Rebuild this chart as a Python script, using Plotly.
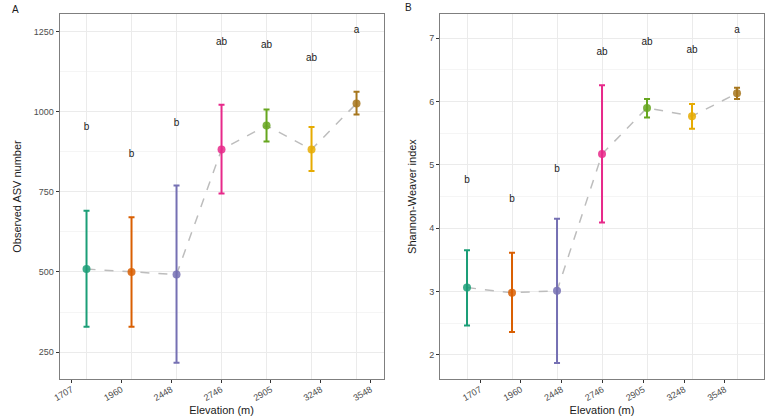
import plotly.graph_objects as go

elevations = ["1707", "1960", "2448", "2746", "2905", "3248", "3548"]
colors = ["#1B9E77", "#D95F02", "#7570B3", "#E7298A", "#66A61E", "#E6AB02", "#A6761D"]

asv_mean = [509, 500, 492, 882, 957, 882, 1026]
asv_upper = [691, 671, 770, 1022, 1007, 952, 1062]
asv_lower = [329, 329, 217, 745, 907, 815, 991]
asv_letters = ["b", "b", "b", "ab", "ab", "ab", "a"]
asv_letter_y = [950, 866, 963, 1216, 1207, 1165, 1255]

sw_mean = [3.06, 2.98, 3.01, 5.17, 5.90, 5.77, 6.13]
sw_upper = [3.65, 3.61, 4.15, 6.26, 6.04, 5.96, 6.22]
sw_lower = [2.46, 2.36, 1.87, 4.09, 5.75, 5.57, 6.04]
sw_letters = ["b", "b", "b", "ab", "ab", "ab", "a"]
sw_letter_y = [4.76, 4.46, 4.92, 6.78, 6.93, 6.81, 7.12]

FONT = "Liberation Sans, Arial, sans-serif"
fig = go.Figure()

def add_panel(xa, ya, xlab, mean, up, lo, letters, ly):
    fig.add_trace(go.Scatter(x=elevations, y=mean, mode="lines",
                             line=dict(color="#BDBDBD", width=1.5, dash="dash"),
                             xaxis=xa, yaxis=ya, showlegend=False, hoverinfo="skip"))
    for i, e in enumerate(elevations):
        fig.add_trace(go.Scatter(
            x=[e], y=[mean[i]], mode="markers",
            marker=dict(color=colors[i], size=8, opacity=0.85, line=dict(width=0)),
            error_y=dict(type="data", symmetric=False,
                         array=[up[i] - mean[i]], arrayminus=[mean[i] - lo[i]],
                         color=colors[i], thickness=2, width=3),
            xaxis=xa, yaxis=ya, showlegend=False))
    fig.add_trace(go.Scatter(x=elevations, y=ly, mode="text", text=letters,
                             textposition="middle center",
                             textfont=dict(size=10, color="#1A1A1A", family=FONT),
                             xaxis=xa, yaxis=ya, showlegend=False, hoverinfo="skip"))
    # invisible trace for the tick-label axis
    fig.add_trace(go.Scatter(x=elevations, y=[mean[0]] * 7, mode="markers",
                             marker=dict(opacity=0), xaxis=xlab, yaxis=ya,
                             showlegend=False, hoverinfo="skip"))

add_panel("x", "y", "x3", asv_mean, asv_upper, asv_lower, asv_letters, asv_letter_y)
add_panel("x2", "y2", "x4", sw_mean, sw_upper, sw_lower, sw_letters, sw_letter_y)

W, H = 767, 419
domA = [53 / W, 380 / W]
domB = [437 / W, 764 / W]
ydom = [1 - 379 / H, 1 - 14 / H]

border = "#7F7F7F"
tickfont = dict(size=9, color="#4D4D4D", family=FONT)
titlefont = dict(size=11, color="#1A1A1A", family=FONT)

data_x = dict(type="category", categoryorder="array", categoryarray=elevations,
              range=[-0.6, 6.6], showticklabels=False, ticks="", showgrid=True,
              gridcolor="#EBEBEB", gridwidth=1, zeroline=False,
              showline=True, linecolor=border, linewidth=1, mirror=True)
lab_x = dict(type="category", categoryorder="array", categoryarray=elevations,
             showgrid=False, zeroline=False, showline=False, ticks="outside",
             ticklen=3, tickcolor="#333333", tickangle=-30, tickfont=tickfont,
             ticklabelstandoff=-2,
             title=dict(text="Elevation (m)", font=titlefont, standoff=4))

fig.update_layout(
    width=W, height=H, margin=dict(l=0, r=0, t=0, b=0),
    paper_bgcolor="white", plot_bgcolor="white", font=dict(family=FONT),
    xaxis=dict(domain=domA, anchor="y", **data_x),
    xaxis2=dict(domain=domB, anchor="y2", **data_x),
    xaxis3=dict(domain=domA, anchor="y", overlaying="x", range=[-0.24, 6.26], **lab_x),
    xaxis4=dict(domain=domB, anchor="y2", overlaying="x2", range=[-0.98, 6.96], **lab_x),
    yaxis=dict(domain=ydom, anchor="x", range=[166, 1305], tickvals=[250, 500, 750, 1000, 1250],
               showgrid=True, gridcolor="#EBEBEB", zeroline=False,
               minor=dict(tickvals=[375, 625, 875, 1125], showgrid=True, gridcolor="#F5F5F5", ticks=""),
               ticks="outside", ticklen=3, tickcolor="#333333", tickfont=tickfont,
               showline=True, linecolor=border, linewidth=1, mirror=True,
               title=dict(text="Observed ASV number", font=titlefont, standoff=9)),
    yaxis2=dict(domain=ydom, anchor="x2", range=[1.616, 7.384], tickvals=[2, 3, 4, 5, 6, 7],
                showgrid=True, gridcolor="#EBEBEB", zeroline=False,
                minor=dict(tickvals=[2.5, 3.5, 4.5, 5.5, 6.5], showgrid=True, gridcolor="#F5F5F5", ticks=""),
                ticks="outside", ticklen=3, tickcolor="#333333", tickfont=tickfont,
                showline=True, linecolor=border, linewidth=1, mirror=True,
                title=dict(text="Shannon-Weaver index", font=titlefont, standoff=10)),
    annotations=[
        dict(text="A", x=3 / W, y=1 - 9 / H, xref="paper", yref="paper", showarrow=False,
             xanchor="left", yanchor="middle", font=dict(size=10, color="#1A1A1A", family=FONT)),
        dict(text="B", x=400 / W, y=1 - 7 / H, xref="paper", yref="paper", showarrow=False,
             xanchor="left", yanchor="middle", font=dict(size=10, color="#1A1A1A", family=FONT)),
    ],
)

fig.write_html("out.html")
